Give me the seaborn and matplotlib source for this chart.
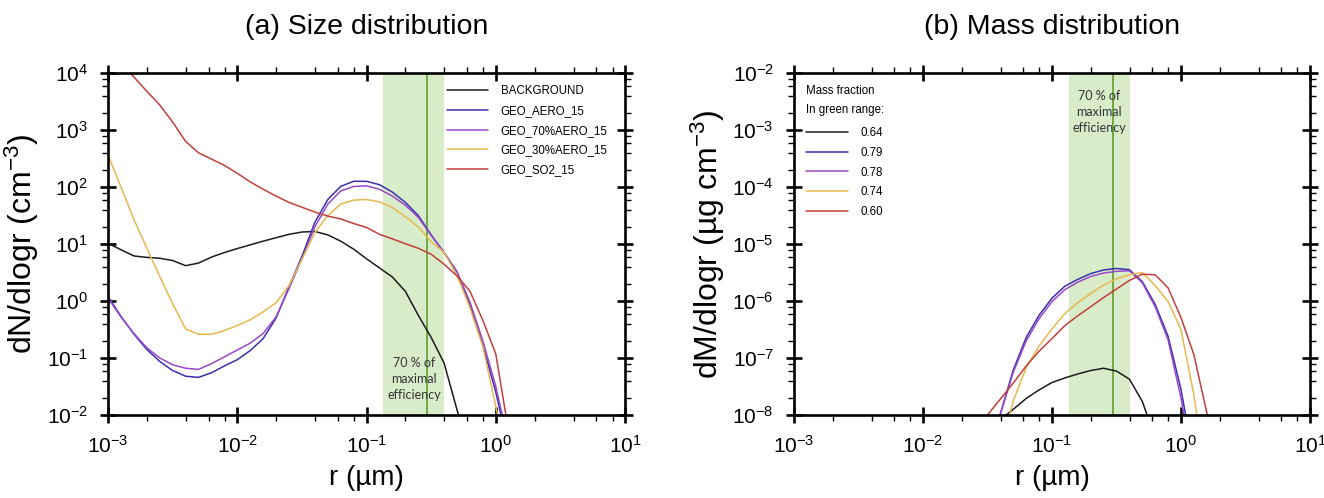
import numpy as np
import pandas as pd
import matplotlib
matplotlib.use("Agg")
import matplotlib.pyplot as plt
from matplotlib.lines import Line2D
from matplotlib.ticker import LogLocator, LogFormatterMathtext, NullFormatter
import seaborn as sns

nan = np.nan

# radius grid (log10 of r in um) for panel (a)
log_r_a = [-3.0, -2.9, -2.8, -2.7, -2.6, -2.5, -2.4, -2.3, -2.2, -2.1,
           -2.0, -1.9, -1.8, -1.7, -1.6, -1.5, -1.4, -1.3, -1.2, -1.1,
           -1.0, -0.9, -0.8, -0.7, -0.6, -0.5, -0.4, -0.3, -0.2, -0.1,
           0.0, 0.1]

# log10 of dN/dlogr (cm-3)
size_background = [1.01, 0.90, 0.79, 0.765, 0.75, 0.71, 0.62, 0.665, 0.77, 0.85,
                   0.92, 0.985, 1.05, 1.11, 1.17, 1.21, 1.22, 1.16, 1.05, 0.91,
                   0.74, 0.58, 0.42, 0.17, -0.25, -0.64, -1.09, -1.91, -2.7, nan,
                   nan, nan]
size_aero = [0.08, -0.27, -0.58, -0.85, -1.06, -1.22, -1.32, -1.34, -1.26, -1.14,
             -1.03, -0.87, -0.66, -0.30, 0.25, 0.78, 1.38, 1.78, 2.01, 2.10,
             2.10, 2.04, 1.91, 1.73, 1.50, 1.16, 0.85, 0.51, -0.06, -0.78,
             -1.6, -2.6]
size_aero70 = [0.05, -0.28, -0.57, -0.82, -1.00, -1.12, -1.18, -1.20, -1.10, -0.98,
               -0.86, -0.74, -0.57, -0.28, 0.22, 0.74, 1.30, 1.70, 1.93, 2.01,
               2.02, 1.96, 1.84, 1.68, 1.47, 1.15, 0.85, 0.51, -0.02, -0.70,
               -1.5, -2.5]
size_aero30 = [2.56, 2.00, 1.43, 0.93, 0.43, -0.05, -0.49, -0.585, -0.585, -0.52,
               -0.43, -0.33, -0.19, -0.03, 0.27, 0.73, 1.20, 1.50, 1.70, 1.77,
               1.78, 1.74, 1.64, 1.48, 1.30, 1.04, 0.85, 0.45, -0.12, -0.80,
               -1.85, -3.0]
size_so2 = [4.40, 4.17, 3.93, 3.68, 3.44, 3.14, 2.80, 2.60, 2.49, 2.38,
            2.24, 2.09, 1.96, 1.84, 1.73, 1.645, 1.56, 1.49, 1.44, 1.36,
            1.29, 1.17, 1.09, 1.005, 0.925, 0.82, 0.645, 0.44, 0.17, -0.34,
            -0.93, -2.3]

# radius grid for panel (b)
log_r_b = [-1.6, -1.5, -1.4, -1.3, -1.2, -1.1, -1.0, -0.9, -0.8, -0.7,
           -0.6, -0.5, -0.4, -0.3, -0.2, -0.1, 0.0, 0.1, 0.2, 0.3]

# log10 of dM/dlogr (ug cm-3)
mass_background = [nan, nan, -8.08, -7.90, -7.71, -7.56, -7.43, -7.35, -7.28, -7.22,
                   -7.18, -7.23, -7.37, -7.76, -8.4, nan, nan, nan, nan, nan]
mass_aero = [nan, -8.9, -7.98, -7.21, -6.64, -6.25, -5.95, -5.74, -5.62, -5.52,
             -5.455, -5.43, -5.45, -5.66, -6.06, -6.62, -7.55, -8.8, nan, nan]
mass_aero70 = [nan, -8.9, -7.98, -7.25, -6.70, -6.31, -6.01, -5.80, -5.67, -5.57,
               -5.51, -5.48, -5.47, -5.68, -6.10, -6.68, -7.70, -9.0, nan, nan]
mass_aero30 = [nan, nan, -8.6, -7.75, -7.17, -6.79, -6.49, -6.22, -6.03, -5.87,
               -5.72, -5.61, -5.54, -5.50, -5.73, -6.01, -6.50, -7.65, -9.2, nan]
mass_so2 = [nan, -8.0, -7.72, -7.44, -7.14, -6.88, -6.66, -6.43, -6.26, -6.10,
            -5.94, -5.79, -5.64, -5.53, -5.54, -5.77, -6.29, -6.94, -7.96, -9.3]

series_names = ["BACKGROUND", "GEO_AERO_15", "GEO_70%AERO_15",
                "GEO_30%AERO_15", "GEO_SO2_15"]
mass_fractions = ["0.64", "0.79", "0.78", "0.74", "0.60"]
colors = ["#1c1c1c", "#3a2fae", "#9a48c8", "#e8b84e", "#c0403c"]

band_lo, band_hi, band_line = 0.135, 0.40, 0.295


def long_form(log_r, curves):
    rows = []
    for name, logs in zip(series_names, curves):
        for lr, ly in zip(log_r, logs):
            if not np.isnan(ly):
                rows.append((name, 10 ** lr, 10 ** ly))
    return pd.DataFrame(rows, columns=["series", "r", "value"])


df_a = long_form(log_r_a, [size_background, size_aero, size_aero70,
                           size_aero30, size_so2])
df_b = long_form(log_r_b, [mass_background, mass_aero, mass_aero70,
                           mass_aero30, mass_so2])

sns.set_style("ticks")
plt.rcParams["font.family"] = ["Liberation Sans", "DejaVu Sans"]
plt.rcParams["mathtext.fontset"] = "custom"
plt.rcParams["mathtext.rm"] = "Liberation Sans"
plt.rcParams["mathtext.it"] = "Liberation Sans:italic"
plt.rcParams["mathtext.bf"] = "Liberation Sans:bold"
plt.rcParams["text.color"] = "black"
plt.rcParams["axes.labelcolor"] = "black"
plt.rcParams["axes.edgecolor"] = "black"
plt.rcParams["xtick.color"] = "black"
plt.rcParams["ytick.color"] = "black"

palette = dict(zip(series_names, colors))
small = {"family": ["Liberation Sans", "DejaVu Sans"], "size": 8.3}

fig = plt.figure(figsize=(13.24, 4.98), dpi=100)
ax1 = fig.add_axes([0.0816, 0.1667, 0.3905, 0.6867])
ax2 = fig.add_axes([0.5997, 0.1667, 0.3897, 0.6867])


def style_axes(ax, ylim):
    ax.set_xscale("log")
    ax.set_yscale("log")
    ax.set_xlim(1e-3, 1e1)
    ax.set_ylim(*ylim)
    for axis in [ax.xaxis, ax.yaxis]:
        axis.set_major_locator(LogLocator(base=10, numticks=20))
        axis.set_minor_locator(LogLocator(base=10, subs=[2, 4, 6, 8], numticks=20))
        axis.set_major_formatter(LogFormatterMathtext())
        axis.set_minor_formatter(NullFormatter())
    for s in ax.spines.values():
        s.set_visible(True)
        s.set_linewidth(1.9)
    ax.tick_params(which="major", direction="inout", length=11, width=1.9,
                   top=True, right=True, labelsize=15, pad=9)
    ax.tick_params(which="minor", direction="out", length=4, width=1.0,
                   top=True, right=True)
    ax.axvspan(band_lo, band_hi, color="#d9ecc9", lw=0, zorder=0.5)
    ax.axvline(band_line, color="#5a9e32", lw=1.2, zorder=1)
    ax.set_xlabel("r (\u00b5m)", fontsize=20, labelpad=6)


# (a) size distribution
sns.lineplot(data=df_a, x="r", y="value", hue="series", hue_order=series_names,
             palette=palette, estimator=None, lw=1.1, legend=False, ax=ax1)
style_axes(ax1, (1e-2, 1e4))
ax1.set_ylabel("dN/dlogr (cm$^{-3}$)", fontsize=23, labelpad=4)
ax1.set_title("(a) Size distribution", fontsize=20.5, pad=28)
ax1.text(0.233, 0.043, "70 % of\nmaximal\nefficiency", ha="center", va="center",
         fontsize=9, family=["Lato", "DejaVu Sans"], linespacing=1.4, color="#333333")
handles = [Line2D([], [], color=c, lw=1.1) for c in colors]
ax1.legend(handles, series_names, loc="upper left", bbox_to_anchor=(0.655, 0.965),
           frameon=False, prop=small, handlelength=3.6, handletextpad=1.1,
           labelspacing=0.68, borderpad=0, borderaxespad=0)

# (b) mass distribution
sns.lineplot(data=df_b, x="r", y="value", hue="series", hue_order=series_names,
             palette=palette, estimator=None, lw=1.1, legend=False, ax=ax2)
style_axes(ax2, (1e-8, 1e-2))
ax2.set_ylabel("dM/dlogr (\u00b5g cm$^{-3}$)", fontsize=23, labelpad=4)
ax2.set_title("(b) Mass distribution", fontsize=20.5, pad=28)
ax2.text(0.231, 2.1e-3, "70 % of\nmaximal\nefficiency", ha="center", va="center",
         fontsize=9, family=["Lato", "DejaVu Sans"], linespacing=1.4, color="#333333")
leg = ax2.legend(handles, mass_fractions, title="Mass fraction\nIn green range:",
                 alignment="left", title_fontproperties=small,
                 loc="upper left", bbox_to_anchor=(0.024, 0.965),
                 frameon=False, prop=small, handlelength=3.6, handletextpad=1.1,
                 labelspacing=0.68, borderpad=0, borderaxespad=0)
leg.get_title().set_linespacing(1.75)
leg._legend_box.sep = 8

fig.savefig("out.png", dpi=100)
